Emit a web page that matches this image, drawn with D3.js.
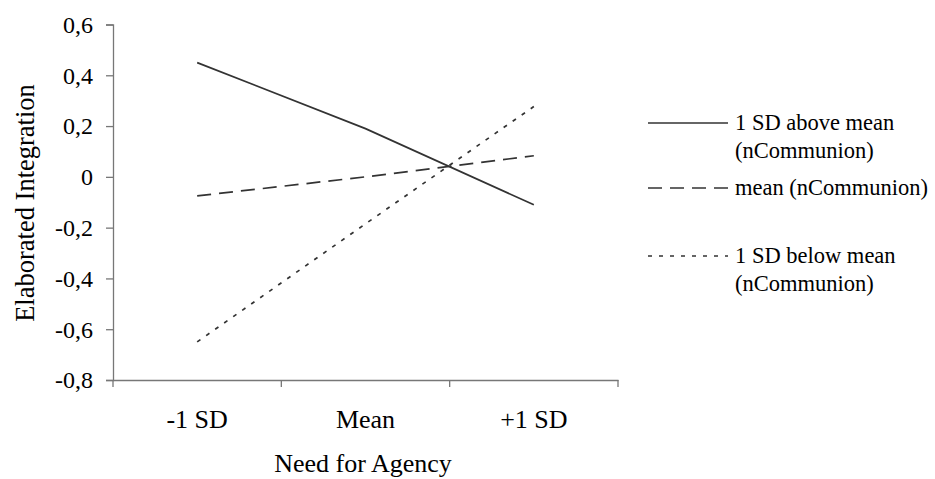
<!DOCTYPE html>
<html>
<head>
<meta charset="utf-8">
<script src="https://cdn.jsdelivr.net/npm/d3@7"></script>
</head>
<body style="margin:0; background:#fff">
<svg></svg>
<script>
var width = 935;
var height = 479;
var serif = 'Liberation Serif';

var categories = ['-1 SD', 'Mean', '+1 SD'];
var yTicks = [0.6, 0.4, 0.2, 0, -0.2, -0.4, -0.6, -0.8];
var aboveMean = [0.45, 0.19, -0.11];
var meanComm = [-0.075, 0.0, 0.083];
var belowMean = [-0.65, -0.185, 0.277];
var seriesNames = [['1 SD above mean', '(nCommunion)'], ['mean (nCommunion)'], ['1 SD below mean', '(nCommunion)']];
var dashes = [null, '14,8', '4,7'];

var svg = d3.select('svg')
    .attr('width', width)
    .attr('height', height);

var x = d3.scaleBand()
    .domain(categories)
    .range([113, 618]);

var y = d3.scaleLinear()
    .domain([-0.8, 0.6])
    .range([380, 24.5]);

var fmt = d => d === 0 ? '0' : d3.format('.1f')(d).replace('.', ',').replace('\u2212', '-');

// y axis
var yAxis = svg.append('g')
    .attr('transform', 'translate(113,0)')
    .call(d3.axisLeft(y).tickValues(yTicks).tickSize(7).tickPadding(13).tickFormat(fmt));

// x axis
var xAxis = svg.append('g')
    .attr('transform', 'translate(0,380)')
    .call(d3.axisBottom(x).tickSize(0));

xAxis.selectAll('.tick text')
    .attr('y', 48)
    .attr('dy', 0)
    .attr('font-size', 26);

xAxis.selectAll('.tick')
  .append('line')
    .attr('x1', -x.bandwidth() / 2)
    .attr('x2', -x.bandwidth() / 2)
    .attr('y2', 7);
svg.append('line')
    .attr('x1', 618).attr('x2', 618)
    .attr('y1', 380).attr('y2', 387)
    .attr('stroke', '#777')
    .attr('stroke-width', 1.3);

svg.selectAll('g').attr('font-family', serif);
svg.selectAll('.domain').attr('stroke', '#777').attr('stroke-width', 1.3);
svg.selectAll('.tick line').attr('stroke', '#777').attr('stroke-width', 1.3);
svg.selectAll('.tick text').attr('fill', '#000');
yAxis.selectAll('.tick text')
    .attr('font-size', 24)
    .attr('dy', '0.33em');

// axis titles
svg.append('text')
    .attr('x', 363)
    .attr('y', 472)
    .attr('text-anchor', 'middle')
    .attr('font-family', serif)
    .attr('font-size', 26)
    .text('Need for Agency');

svg.append('text')
    .attr('transform', 'translate(34,203) rotate(-90)')
    .attr('text-anchor', 'middle')
    .attr('font-family', serif)
    .attr('font-size', 26.5)
    .text('Elaborated Integration');

// lines
var allSeries = [aboveMean, meanComm, belowMean];
var line = d3.line()
    .x((d, i) => x(categories[i]) + x.bandwidth() / 2)
    .y(d => y(d));

svg.selectAll('.series')
  .data(allSeries)
  .enter()
  .append('path')
    .classed('series', true)
    .attr('d', line)
    .attr('fill', 'none')
    .attr('stroke', '#333')
    .attr('stroke-width', 1.7)
    .attr('stroke-dasharray', (d, i) => dashes[i]);

// legend
var legendY = [123, 188, 256];
var legend = svg.selectAll('.legend')
  .data(seriesNames)
  .enter()
  .append('g')
    .classed('legend', true)
    .attr('transform', (d, i) => 'translate(648,' + legendY[i] + ')');

legend.append('line')
    .attr('x1', 0)
    .attr('x2', 80)
    .attr('stroke', '#333')
    .attr('stroke-width', 1.7)
    .attr('stroke-dasharray', (d, i) => dashes[i]);

legend.each(function(d) {
  var t = d3.select(this).append('text')
      .attr('x', 87)
      .attr('y', 7)
      .attr('font-family', serif)
      .attr('font-size', 22.5);
  d.forEach(function(s, j) {
    t.append('tspan')
      .attr('x', 87)
      .attr('dy', j === 0 ? 0 : 28)
      .text(s);
  });
});
</script>
</body>
</html>
